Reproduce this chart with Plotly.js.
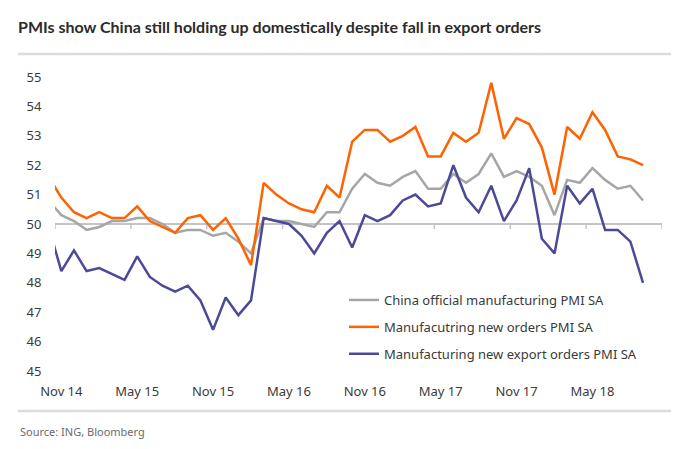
<!DOCTYPE html>
<html>
<head>
<meta charset="utf-8">
<script src="https://cdn.plot.ly/plotly-3.0.1.min.js"></script>
<style>
html,body{margin:0;padding:0;background:#fff;}
#chart{width:698px;height:449px;}
</style>
</head>
<body>
<div id="chart"></div>
<script>
const months = ["Oct 14","Nov 14","Dec 14",
"Jan 15","Feb 15","Mar 15","Apr 15","May 15","Jun 15","Jul 15","Aug 15","Sep 15","Oct 15","Nov 15","Dec 15",
"Jan 16","Feb 16","Mar 16","Apr 16","May 16","Jun 16","Jul 16","Aug 16","Sep 16","Oct 16","Nov 16","Dec 16",
"Jan 17","Feb 17","Mar 17","Apr 17","May 17","Jun 17","Jul 17","Aug 17","Sep 17","Oct 17","Nov 17","Dec 17",
"Jan 18","Feb 18","Mar 18","Apr 18","May 18","Jun 18","Jul 18","Aug 18","Sep 18"];

const pmiSA = [50.8,50.3,50.1,
49.8,49.9,50.1,50.1,50.2,50.2,50.0,49.7,49.8,49.8,49.6,49.7,
49.4,49.0,50.2,50.1,50.1,50.0,49.9,50.4,50.4,51.2,51.7,51.4,
51.3,51.6,51.8,51.2,51.2,51.7,51.4,51.7,52.4,51.6,51.8,51.6,
51.3,50.3,51.5,51.4,51.9,51.5,51.2,51.3,50.8];

const newOrders = [51.6,50.9,50.4,
50.2,50.4,50.2,50.2,50.6,50.1,49.9,49.7,50.2,50.3,49.8,50.2,
49.5,48.6,51.4,51.0,50.7,50.5,50.4,51.3,50.9,52.8,53.2,53.2,
52.8,53.0,53.3,52.3,52.3,53.1,52.8,53.1,54.8,52.9,53.6,53.4,
52.6,51.0,53.3,52.9,53.8,53.2,52.3,52.2,52.0];

const exportOrders = [49.9,48.4,49.1,
48.4,48.5,48.3,48.1,48.9,48.2,47.9,47.7,47.9,47.4,46.4,47.5,
46.9,47.4,50.2,50.1,50.0,49.6,49.0,49.7,50.1,49.2,50.3,50.1,
50.3,50.8,51.0,50.6,50.7,52.0,50.9,50.4,51.3,50.1,50.8,51.9,
49.5,49.0,51.3,50.7,51.2,49.8,49.8,49.4,48.0];

const tickLabels = ["Nov 14","May 15","Nov 15","May 16","Nov 16","May 17","Nov 17","May 18"];
const seriesNames = ["China official manufacturing PMI SA","Manufacutring new orders PMI SA","Manufacturing new export orders PMI SA"];
const yTicks = [45,46,47,48,49,50,51,52,53,54,55];

const xs = months.map((m,i)=>i);
const tickVals = tickLabels.map(l=>months.indexOf(l));
const firstIdx = tickVals[0];
const xMin = firstIdx - 0.5, xMax = firstIdx + 47.5;
const bounds = [];
for (let b = xMin; b <= xMax + 1e-9; b += 6) bounds.push(b);

const FONT = "Noto Sans, Lato, sans-serif";
const TFONT = "Lato, Noto Sans, sans-serif";
const colors = ["#a6a6a6","#ff6200","#4c4a98"];
const vals = [pmiSA,newOrders,exportOrders];

const traces = vals.map((v,k)=>({
  type:"scatter", mode:"lines", x:xs, y:v, name:seriesNames[k],
  legendgroup:"g"+k,
  line:{color:colors[k], width:2.5}, hoverinfo:"skip"
}));

const shapes = [
  {type:"line", xref:"x", yref:"y", x0:xMin, x1:xMax, y0:50, y1:50, line:{color:"#c4c4c4", width:2}, layer:"below"},
  {type:"line", xref:"paper", yref:"paper", x0:-0.061, x1:1.015, y0:1.078, y1:1.078, line:{color:"#dcdcdc", width:2.5}},
  {type:"line", xref:"paper", yref:"paper", x0:-0.061, x1:1.015, y0:-0.136, y1:-0.136, line:{color:"#dcdcdc", width:2.5}}
];
bounds.forEach(b=>shapes.push({type:"line", xref:"x", yref:"y", x0:b, x1:b, y0:50, y1:49.83, line:{color:"#c4c4c4", width:1.5}, layer:"below"}));

const layout = {
  width:698, height:449,
  margin:{l:55, r:36, t:77, b:78, pad:0},
  paper_bgcolor:"#ffffff", plot_bgcolor:"#ffffff",
  font:{family:FONT, size:13, color:"#3a3a3a"},
  title:{text:"PMIs show China still holding up domestically despite fall in export orders",
    font:{family:TFONT, size:16, color:"#2b2b2b", weight:700},
    x:18/698, xref:"container", xanchor:"left", y:1-27/449, yref:"container", yanchor:"middle"},
  xaxis:{range:[xMin,xMax], tickmode:"array", tickvals:tickVals, ticktext:tickLabels,
    showgrid:false, zeroline:false, showline:false, ticks:"outside", ticklen:8, tickcolor:"rgba(0,0,0,0)",
    tickfont:{family:FONT, size:13, color:"#3a3a3a"}, fixedrange:true},
  yaxis:{range:[45,55], tickmode:"array", tickvals:yTicks, showgrid:false, zeroline:false, showline:false,
    ticks:"outside", ticklen:10, tickcolor:"rgba(0,0,0,0)",
    tickfont:{family:FONT, size:13, color:"#3a3a3a"}, fixedrange:true},
  showlegend:true,
  legend:{x:(344-55)/607, xanchor:"left", y:(371-285)/294, yanchor:"top",
    bgcolor:"rgba(0,0,0,0)", borderwidth:0, tracegroupgap:7,
    font:{family:FONT, size:13, color:"#3a3a3a"}},
  shapes:shapes,
  annotations:[{text:"Source: ING, Bloomberg", xref:"paper", yref:"paper", x:(18-55)/607, y:(371-432)/294,
    xanchor:"left", yanchor:"middle", showarrow:false, font:{family:FONT, size:11, color:"#6b6b6b"}}]
};

Plotly.newPlot("chart", traces, layout, {displayModeBar:false, staticPlot:true});
</script>
</body>
</html>
